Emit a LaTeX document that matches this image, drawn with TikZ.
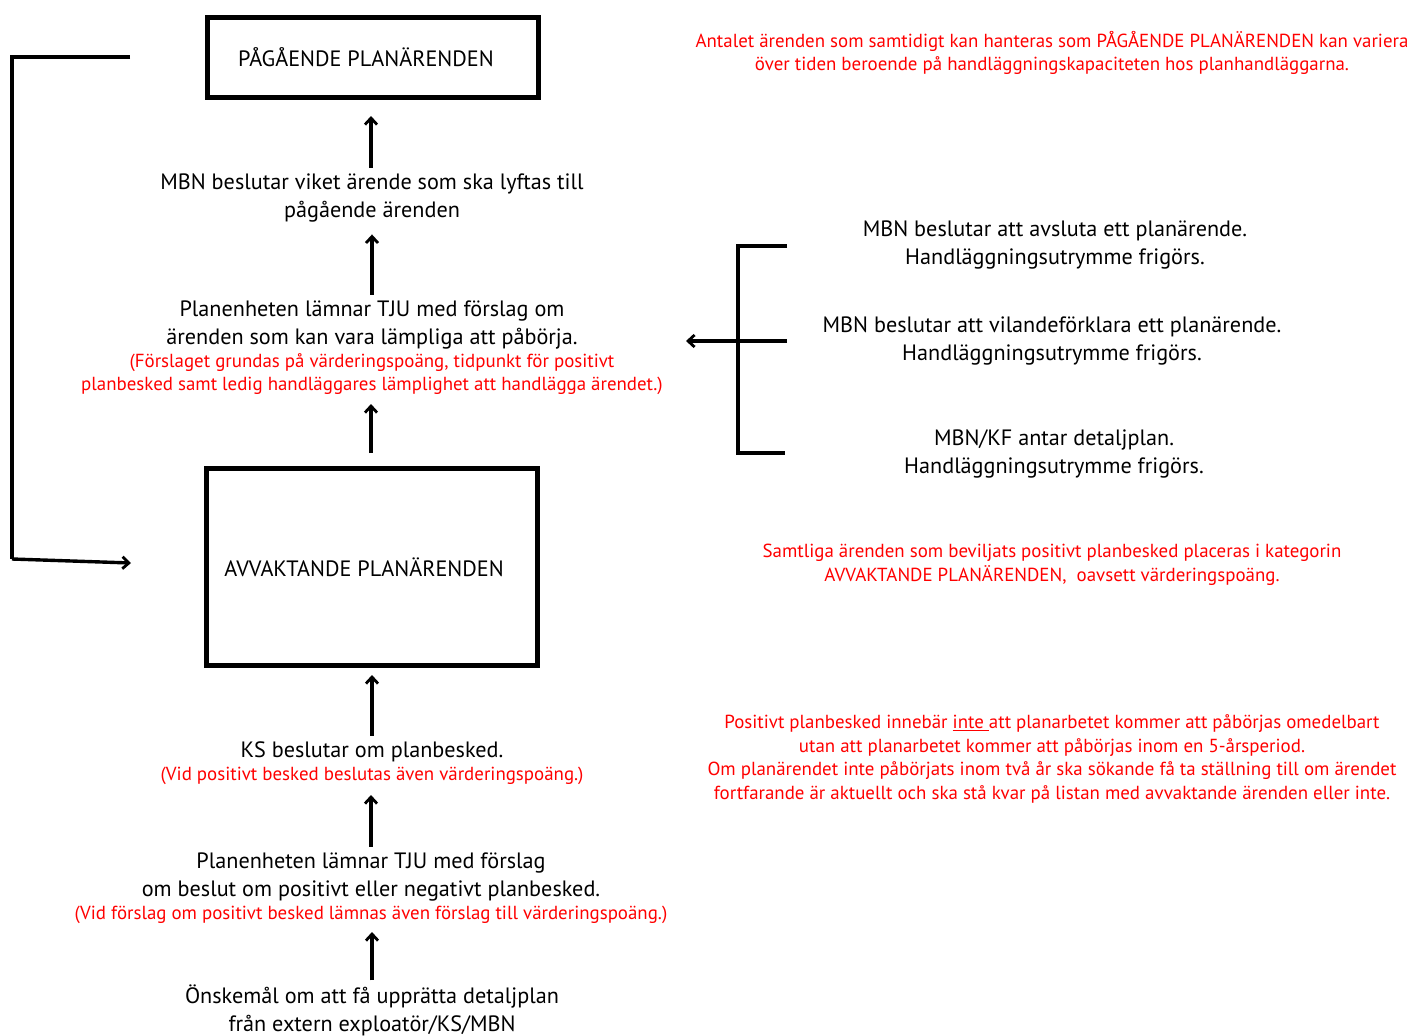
\documentclass[tikz,border=0pt]{standalone}
\usepackage{fontspec}
\setmainfont{PT Sans}
\usetikzlibrary{arrows.meta}
\tikzset{
  x=1pt,y=-1pt,
  box/.style={draw,line width=5pt,inner sep=0pt,font=\blk},
  txt/.style={inner sep=0pt,align=center,font=\blk},
  rtxt/.style={inner sep=0pt,align=center,text=red,font=\rtx},
  arr/.style={line width=3.4pt,-{Straight Barb[length=6.5pt,width=12pt,line width=2.8pt]}},
  ln/.style={line width=3.4pt},
}
\newcommand{\blk}{\fontsize{22.2}{28}\selectfont}
\newcommand{\rtx}{\fontsize{18.9}{23.6}\selectfont}
\begin{document}
\begin{tikzpicture}
\useasboundingbox (0,0) rectangle (1414,1036);
% boxes
\node[box,minimum width=331pt,minimum height=80pt] (b1) at (373,57.5) {PÅGÅENDE PLANÄRENDEN\hspace*{14pt}};
\node[box,minimum width=331pt,minimum height=197pt] (b2) at (372,567) {\raisebox{-2pt}{AVVAKTANDE PLANÄRENDEN}\hspace*{16pt}};
% left column texts
\node[txt] (t1) at (372,198) {MBN beslutar viket ärende som ska lyftas till\\pågående ärenden};
\node[txt] (t2) at (372,325) {Planenheten lämnar TJU med förslag om\\ärenden som kan vara lämpliga att påbörja.};
\node[rtxt] (r2) at (372,374) {(Förslaget grundas på värderingspoäng, tidpunkt för positivt\\planbesked samt ledig handläggares lämplighet att handlägga ärendet.)};
\node[txt] (t3) at (372,752) {KS beslutar om planbesked.};
\node[rtxt] (r3) at (372,776) {(Vid positivt besked beslutas även värderingspoäng.)};
\node[txt] (t4) at (371,877) {Planenheten lämnar TJU med förslag\\om beslut om positivt eller negativt planbesked.};
\node[rtxt] (r4) at (371,915) {(Vid förslag om positivt besked lämnas även förslag till värderingspoäng.)};
\node[txt] (t5) at (372,1010) {Önskemål om att få upprätta detaljplan\\från extern exploatör/KS/MBN};
% vertical arrows
\draw[arr,shorten <=6pt,shorten >=16pt] (t1.north -| 371,0) -- (b1.south -| 371,0);
\draw[arr,shorten <=6pt,shorten >=12pt] (t2.north -| 372,0) -- (t1.south -| 372,0);
\draw[arr,shorten <=13pt,shorten >=9pt] (b2.north -| 371,0) -- (r2.south -| 371,0);
\draw[arr,shorten <=6pt,shorten >=7pt] (t3.north -| 372,0) -- (b2.south -| 372,0);
\draw[arr,shorten <=6pt,shorten >=10pt] (t4.north -| 371,0) -- (r3.south -| 371,0);
\draw[arr,shorten <=4pt,shorten >=8pt] (t5.north -| 372,0) -- (r4.south -| 372,0);
% left loop
\coordinate (lp1) at (130,57);
\coordinate (lp2) at (12,57);
\coordinate (lp3) at (12,559);
\coordinate (lp4) at (131,563);
\draw[ln] (lp1) -- (lp2) -- (lp3);
\draw[arr] (lp3) -- (lp4);
% right texts
\node[txt] (m1) at (1055,245) {MBN beslutar att avsluta ett planärende.\\Handläggningsutrymme frigörs.};
\node[txt] (m2) at (1052,341) {MBN beslutar att vilandeförklara ett planärende.\\Handläggningsutrymme frigörs.};
\node[txt] (m3) at (1054,454) {MBN/KF antar detaljplan.\\Handläggningsutrymme frigörs.};
% bracket
\coordinate (k1) at (787,246);
\coordinate (k2) at (738,246);
\coordinate (k3) at (738,453);
\coordinate (k4) at (785,453);
\coordinate (k5) at (787,341);
\coordinate (k6) at (686,341);
\draw[ln] (k1) -- (k2) -- (k3) -- (k4);
\draw[arr] (k5) -- (k6);
% red notes
\node[rtxt] (n1) at (1052,53) {Antalet ärenden som samtidigt kan hanteras som PÅGÅENDE PLANÄRENDEN kan variera\\över tiden beroende på handläggningskapaciteten hos planhandläggarna.};
\node[rtxt] (n2) at (1052,565) {Samtliga ärenden som beviljats positivt planbesked placeras i kategorin\\AVVAKTANDE PLANÄRENDEN,\ \ oavsett värderingspoäng.};
\node[rtxt] (n3) at (1052,759) {Positivt planbesked innebär \underline{inte\ }att planarbetet kommer att påbörjas omedelbart\\utan att planarbetet kommer att påbörjas inom en 5-årsperiod.\\Om planärendet inte påbörjats inom två år ska sökande få ta ställning till om ärendet\\fortfarande är aktuellt och ska stå kvar på listan med avvaktande ärenden eller inte.};
\end{tikzpicture}
\end{document}
